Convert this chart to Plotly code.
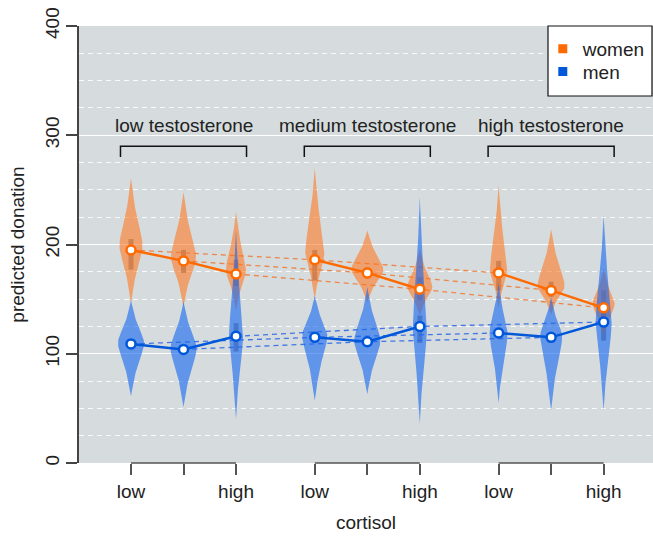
import numpy as np
import plotly.graph_objects as go

# ---------------- data ----------------
groups = ["low testosterone", "medium testosterone", "high testosterone"]
group_centers = [2, 5.5, 9]
positions = [1, 2, 3, 4.5, 5.5, 6.5, 8, 9, 10]
cortisol_ticks = ["low", "", "high", "low", "", "high", "low", "", "high"]

women_mean = [195, 185, 173, 186, 174, 159, 174, 158, 142]
men_mean = [109, 104, 116, 115, 111, 125, 119, 115, 129]

# violin summaries: mode, lower tip, upper tip, max half-width (px)
women_mode = [199, 188, 177, 192, 177, 161, 177, 162, 146]
women_lo = [146, 143, 140, 150, 147, 135, 142, 136, 115]
women_hi = [261, 248, 230, 270, 213, 196, 254, 214, 178]
women_w = [11.5, 12.5, 10, 9.5, 16, 12.5, 8.5, 13.5, 11]
women_box_lo = [177, 174, 162, 167, 169, 149, 158, 152, 131]
women_box_hi = [205, 195, 186, 195, 179, 170, 185, 166, 158]

men_mode = [110, 105, 116, 117, 112, 122, 119, 116, 128]
men_lo = [61, 51, 40, 57, 63, 36, 55, 48, 48]
men_hi = [149, 148, 213, 153, 161, 244, 165, 152, 227]
men_w = [13, 13, 7, 12.5, 13, 7, 9, 11, 8]
men_box_lo = [None, None, 102, None, None, 110, None, None, 112]
men_box_hi = [None, None, 128, None, None, 135, None, None, 140]

# ---------------- style ----------------
W_COL = "#ff6a00"
M_COL = "#0057d9"
W_FILL = "rgba(255,118,30,0.58)"
M_FILL = "rgba(25,105,240,0.62)"
BOX_COL = "rgba(85,85,85,0.55)"
BG = "#d6dcdd"
FONT = "Liberation Sans, Arial, sans-serif"
FS = 19

PX = 1 / 52.5  # x-units per pixel


def outline(x0, mode, lo, hi, w_px, n=60):
    up = np.linspace(0, 1, n)
    f_up = 1 / (1 + (up / 0.45) ** 2) * (1 - up ** 4)
    y_up = mode + up * (hi - mode)
    dn = np.linspace(0, 1, n)
    f_dn = 1 / (1 + (dn / 0.45) ** 2) * (1 - dn ** 4)
    y_dn = mode - dn * (mode - lo)
    ys = np.concatenate([y_dn[::-1], y_up[1:]])
    fs = np.concatenate([f_dn[::-1], f_up[1:]])
    half = w_px * PX * fs
    xs = np.concatenate([x0 - half, (x0 + half)[::-1]])
    yy = np.concatenate([ys, ys[::-1]])
    return xs, yy


fig = go.Figure()

# dashed lines connecting same cortisol level across testosterone groups
for k in range(3):
    idx = [k, k + 3, k + 6]
    fig.add_trace(go.Scatter(x=[positions[i] for i in idx], y=[women_mean[i] for i in idx],
                             mode="lines", line=dict(color="rgba(240,120,50,0.85)", width=1.3, dash="5px,4px"),
                             showlegend=False, hoverinfo="skip"))
    fig.add_trace(go.Scatter(x=[positions[i] for i in idx], y=[men_mean[i] for i in idx],
                             mode="lines", line=dict(color="rgba(40,100,230,0.85)", width=1.3, dash="5px,4px"),
                             showlegend=False, hoverinfo="skip"))

# violins
for i, x0 in enumerate(positions):
    xs, ys = outline(x0, women_mode[i], women_lo[i], women_hi[i], women_w[i])
    fig.add_trace(go.Scatter(x=xs, y=ys, fill="toself", fillcolor=W_FILL, mode="lines",
                             line=dict(width=0), showlegend=False, hoverinfo="skip"))
for i, x0 in enumerate(positions):
    xs, ys = outline(x0, men_mode[i], men_lo[i], men_hi[i], men_w[i])
    fig.add_trace(go.Scatter(x=xs, y=ys, fill="toself", fillcolor=M_FILL, mode="lines",
                             line=dict(width=0), showlegend=False, hoverinfo="skip"))

# inner boxes
bx, bb, bh = [], [], []
for lo_l, hi_l in ((women_box_lo, women_box_hi), (men_box_lo, men_box_hi)):
    for i, x0 in enumerate(positions):
        if lo_l[i] is not None:
            bx.append(x0)
            bb.append(lo_l[i])
            bh.append(hi_l[i] - lo_l[i])
fig.add_trace(go.Bar(x=bx, y=bh, base=bb, width=0.095, marker=dict(color=BOX_COL, line=dict(width=0)),
                     showlegend=False, hoverinfo="skip"))

# solid lines with mean points
for g in range(3):
    idx = [3 * g, 3 * g + 1, 3 * g + 2]
    fig.add_trace(go.Scatter(x=[positions[i] for i in idx], y=[women_mean[i] for i in idx],
                             mode="lines+markers", line=dict(color=W_COL, width=2.5),
                             marker=dict(size=9, color="white", line=dict(color=W_COL, width=2.5)),
                             showlegend=False, hoverinfo="skip"))
    fig.add_trace(go.Scatter(x=[positions[i] for i in idx], y=[men_mean[i] for i in idx],
                             mode="lines+markers", line=dict(color=M_COL, width=2.5),
                             marker=dict(size=9, color="white", line=dict(color=M_COL, width=2.5)),
                             showlegend=False, hoverinfo="skip"))

# legend entries (one legend each so their spacing matches)
fig.add_trace(go.Scatter(x=[None], y=[None], mode="markers", name="women", legend="legend",
                         marker=dict(symbol="square", size=9, color=W_COL)))
fig.add_trace(go.Scatter(x=[None], y=[None], mode="markers", name="men", legend="legend2",
                         marker=dict(symbol="square", size=9, color=M_COL)))

shapes = []
# top brackets
for c in group_centers:
    shapes.append(dict(type="path", xref="x", yref="y",
                       path=f"M {c-1.2},280 L {c-1.2},290 L {c+1.2},290 L {c+1.2},280",
                       line=dict(color="#111", width=1.5)))
# bottom axis brackets
for g in range(3):
    shapes.append(dict(type="line", xref="x", yref="paper", x0=positions[3 * g], x1=positions[3 * g + 2],
                       y0=0, y1=0, line=dict(color="#555", width=1.5)))
# legend box
shapes.append(dict(type="rect", xref="paper", yref="paper", x0=(548 - 79) / 574, x1=(652 - 79) / 574,
                   y0=(463 - 96) / 437, y1=1.0, fillcolor="white", line=dict(color="#111", width=1.2),
                   layer="above"))

annotations = [dict(x=c, y=309, xref="x", yref="y", text=t, showarrow=False,
                    font=dict(size=FS, color="#222", family=FONT))
               for c, t in zip(group_centers, groups)]

leg_common = dict(x=0.808, xanchor="left", yanchor="top", bgcolor="rgba(0,0,0,0)",
                  borderwidth=0, font=dict(size=FS, color="#222", family=FONT))

fig.update_layout(
    width=653, height=537,
    margin=dict(l=79, r=0, t=26, b=74),
    paper_bgcolor="white", plot_bgcolor=BG,
    font=dict(family=FONT, size=FS, color="#222"),
    shapes=shapes, annotations=annotations,
    barmode="overlay",
    legend=dict(y=0.991, **leg_common),
    legend2=dict(y=0.939, **leg_common),
    xaxis=dict(range=[0.01, 10.94], tickvals=positions, ticktext=cortisol_ticks,
               ticks="outside", ticklen=11, tickwidth=1.5, tickcolor="#555",
               showgrid=False, zeroline=False, showline=False, automargin=False,
               ticklabelstandoff=0,
               title=dict(text="cortisol", standoff=14, font=dict(size=FS))),
    yaxis=dict(range=[0, 400], tickvals=[0, 100, 200, 300, 400], tickangle=-90,
               ticks="outside", ticklen=11, tickwidth=1.5, tickcolor="#444",
               showline=True, linecolor="#444", linewidth=1.5, automargin=False,
               showgrid=True, gridcolor="white", gridwidth=1.3, zeroline=False,
               minor=dict(dtick=25, showgrid=True, gridcolor="rgba(255,255,255,0.85)",
                          griddash="5px,4px", gridwidth=1),
               title=dict(text="predicted donation", standoff=12, font=dict(size=FS))),
)

fig.write_html("out.html", config={"displayModeBar": False},
               post_script="document.body.style.margin='0px';")
